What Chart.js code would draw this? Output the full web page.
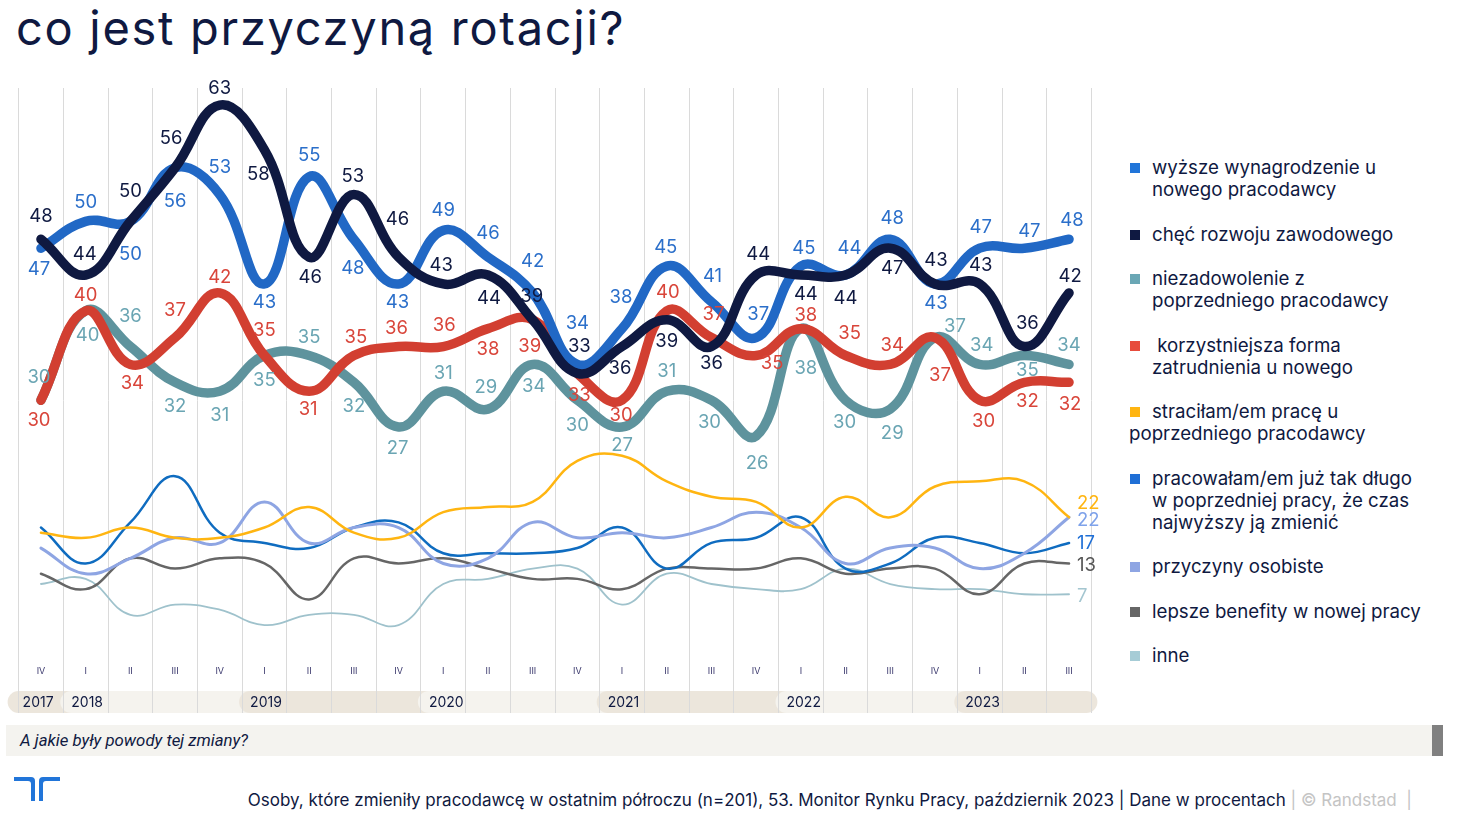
<!DOCTYPE html>
<html><head><meta charset="utf-8">
<script src="https://cdn.jsdelivr.net/npm/chart.js@4.4.0/dist/chart.umd.min.js"></script>
<style>
html,body{margin:0;padding:0;background:#fff;}
body{width:1457px;height:823px;position:relative;overflow:hidden;font-family:Inter,"Noto Sans",sans-serif;color:#0f1941;}
#title{position:absolute;left:16px;top:0;font-size:47px;letter-spacing:1.7px;line-height:56px;white-space:nowrap;color:#0f1941;}
#wrap{position:absolute;left:0;top:0;width:1100px;height:730px;}
#legend{position:absolute;left:1129px;top:157px;width:328px;}
.item{position:relative;font-size:18.7px;line-height:22px;margin-bottom:22.5px;padding-left:23px;white-space:nowrap;}
.item.out{padding-left:0;text-indent:23px;}
.sq{position:absolute;left:1px;top:6px;width:10px;height:10px;}
#qbar{position:absolute;left:6px;top:725px;width:1426px;height:31px;background:#f4f3ef;}
#qbar span{position:absolute;left:14px;top:0;line-height:31px;font-style:italic;font-size:16.8px;font-family:Roboto,"Liberation Sans",sans-serif;color:#0f1941;}
#qend{position:absolute;left:1432px;top:725px;width:11px;height:31px;background:#808080;}
#logo{position:absolute;left:14px;top:777px;}
#foot{position:absolute;right:45px;top:789px;font-size:17px;line-height:22px;white-space:nowrap;color:#0f1941;}
#foot .g{color:#c4c4c4;}
</style>
</head><body>
<div id="title">co jest przyczyną rotacji?</div>
<div id="wrap"><canvas id="c" width="1100" height="730"></canvas></div>
<div id="legend"></div>
<div id="qbar"><span>A jakie były powody tej zmiany?</span></div>
<div id="qend"></div>
<svg id="logo" width="46" height="24" viewBox="0 0 46 24">
<path d="M0 0 H17 Q21 0 21 4 V24 H17 V7 Q17 4 14 4 H0 Z" fill="#2175d9"/>
<path d="M46 0 H29 Q25 0 25 4 V24 H29 V7 Q29 4 32 4 H46 Z" fill="#2175d9"/>
</svg>
<div id="foot">Osoby, które zmieniły pracodawcę w ostatnim półroczu (n=201), 53. Monitor Rynku Pracy, październik 2023 | Dane w procentach<span class="g"> | © Randstad &nbsp;|</span></div>
<script>
// ---- data ----
const quarters = ['IV','I','II','III','IV','I','II','III','IV','I','II','III','IV','I','II','III','IV','I','II','III','IV','I','II','III'];
const periodYears = [2017,2018,2018,2018,2018,2019,2019,2019,2019,2020,2020,2020,2020,2021,2021,2021,2021,2022,2022,2022,2022,2023,2023,2023];

const wyzszeWynagrodzenie = [47,50,50,56,53,43,55,48,43,49,46,42,34,38,45,41,37,45,44,48,43,47,47,48];
const checRozwoju        = [48,44,50,56,63,58,46,53,46,43,44,39,33,36,39,36,44,44,44,47,43,43,36,42];
const niezadowolenie     = [30,40,36,32,31,35,35,32,27,31,29,34,30,27,31,30,26,38,30,29,37,34,35,34];
const korzystniejsza     = [30,40,34,37,42,35,31,35,36,36,38,39,33,30,40,37,35,38,35,34,37,30,32,32];
const stracilamPrace     = [19,18,20,18,18,20,24,19,18,23,24,25,33,34,29,26,25,20,26,22,28,29,29,22];
const pracowalamDlugo    = [20,13,21,30,19,17,16,20,21,15,15,15,16,20,12,17,18,22,12,13,18,17,15,17];
const przyczynyOsobiste  = [16,11,14,18,17,25,17,20,20,13,14,21,18,19,18,20,23,20,13,16,16,12,15,22];
const lepszeBenefity     = [11,8,14,12,14,13,6,14,13,14,12,10,10,8,12,12,12,14,11,12,12,7,13,13];
const inne               = [9,10,3,5,4,1,3,3,1,9,10,12,12,5,11,9,8,8,12,9,8,8,7,7];

// ---- label placement (pixel offsets from each point) ----
const offBlue = [[-2,21],[0,-19],[0,33],[0,34],[0,-27],[0,18],[0,-21],[-1,29],[-1,18],[0,-20],[0,-24],[0,-31],[0,-41],[-1,-31],[-1,-19],[1,-25],[2,-23],[3,-18],[4,-27],[2,-21],[1,19],[1,-21],[5,-17],[3,-19]];
const offNavy = [[0,-23],[-1,-21],[0,-30],[-4,-29],[0,-17],[-6,25],[1,20],[-1,-18],[-1,-38],[-2,-19],[1,23],[-1,-23],[2,-27],[-2,22],[0,22],[0,17],[2,-21],[5,19],[0,23],[2,20],[1,-24],[1,-19],[3,-23],[1,-16]];
const offTeal = [[-2,-23],[2,25],[0,-30],[0,24],[0,24],[0,25],[0,-18],[0,24],[-1,21],[0,-18],[-2,-22],[1,22],[0,25],[0,18],[0,-20],[-2,22],[1,27],[5,40],[-1,22],[2,24],[20,-11],[2,-19],[3,15],[0,-19]];
const offRed  = [[-2,20],[0,-15],[2,19],[0,-27],[0,-15],[0,-25],[-1,18],[2,-18],[-2,-18],[1,-21],[0,21],[-3,27],[2,22],[-1,15],[1,-18],[2,-23],[16,8],[5,-13],[4,-22],[2,-19],[5,38],[4,21],[3,19],[1,22]];
const endOff = {stracilam:-14, osobiste:3, pracowalam:0, benefity:1.5, inne:2};

const series = [
  {label:'chęć rozwoju zawodowego', data:checRozwoju, color:'#0f1941', lab:'#0f1941', main:true, off:offNavy},
  {label:'wyższe wynagrodzenie u nowego pracodawcy', data:wyzszeWynagrodzenie, color:'#2168c5', lab:'#2b6fca', main:true, off:offBlue},
  {label:'korzystniejsza forma zatrudnienia u nowego', data:korzystniejsza, color:'#d23f31', lab:'#d9453a', main:true, off:offRed},
  {label:'niezadowolenie z poprzedniego pracodawcy', data:niezadowolenie, color:'#5e939d', lab:'#6aa5b3', main:true, off:offTeal},
  {label:'straciłam/em pracę u poprzedniego pracodawcy', data:stracilamPrace, color:'#ffb511', lab:'#ffb511', w:2.5, end:endOff.stracilam},
  {label:'przyczyny osobiste', data:przyczynyOsobiste, color:'#8ea5e3', lab:'#7ea2ea', w:3, end:endOff.osobiste},
  {label:'pracowałam/em już tak długo w poprzedniej pracy, że czas najwyższy ją zmienić', data:pracowalamDlugo, color:'#0f6cc0', lab:'#1f6fd6', w:2.5, end:endOff.pracowalam},
  {label:'lepsze benefity w nowej pracy', data:lepszeBenefity, color:'#666666', lab:'#555555', w:2.5, end:endOff.benefity},
  {label:'inne', data:inne, color:'#9fc2cc', lab:'#a4c6d0', w:1.8, end:endOff.inne}
];

// ---- legend (HTML) ----
const legendItems = [
  ['wyższe wynagrodzenie u<br>nowego pracodawcy','#2175d9',''],
  ['chęć rozwoju zawodowego','#0f1941',''],
  ['niezadowolenie z<br>poprzedniego pracodawcy','#6aa7b5',''],
  ['&nbsp;korzystniejsza forma<br>zatrudnienia u nowego','#e74c3c',''],
  ['straciłam/em pracę u<br>poprzedniego pracodawcy','#ffb511','out'],
  ['pracowałam/em już tak długo<br>w poprzedniej pracy, że czas<br>najwyższy ją zmienić','#1f6fd6',''],
  ['przyczyny osobiste','#8ea5e3',''],
  ['lepsze benefity w nowej pracy','#666666',''],
  ['inne','#a6ccd6','']
];
const lg = document.getElementById('legend');
legendItems.forEach(([t,c,cls])=>{
  const d=document.createElement('div'); d.className='item '+cls;
  d.innerHTML='<span class="sq" style="background:'+c+';text-indent:0"></span>'+t;
  lg.appendChild(d);
});

// ---- plugins ----
const decor = {
  id:'decor',
  beforeDraw(chart){
    const {ctx, chartArea:a} = chart; const x = chart.scales.x;
    const half = (x.getPixelForValue(1)-x.getPixelForValue(0))/2;
    const yrs=[]; periodYears.forEach((y,i)=>{ if(!yrs.length||yrs[yrs.length-1].y!==y) yrs.push({y,i}); });
    const top=a.bottom-22, h=22;
    yrs.forEach((s,k)=>{
      const bx = x.getPixelForValue(s.i)-half;
      const start = k===0 ? a.left-11 : bx-3;
      let end;
      if(k<yrs.length-1){ end = x.getPixelForValue(yrs[k+1].i)-half+20; } else { end = a.right+6; }
      ctx.save();
      ctx.fillStyle = (k%2===0)?'#ece6dc':'#f5f3ee';
      ctx.beginPath(); ctx.roundRect(start, top, end-start, h, 11); ctx.fill();
      ctx.restore();
    });
    yrs.forEach((s,k)=>{
      const bx = x.getPixelForValue(s.i)-half;
      const start = k===0 ? a.left-11 : bx-3;
      ctx.save(); ctx.fillStyle='#0f1941'; ctx.font='14px Inter'; ctx.textBaseline='middle'; ctx.textAlign='left';
      ctx.fillText(String(s.y), start+(k===0?15:11), top+h/2+0.5); ctx.restore();
    });
  },
  afterDraw(chart){
    const {ctx, chartArea:a} = chart; const x = chart.scales.x;
    ctx.save(); ctx.fillStyle='#3c3a6e'; ctx.font='9px Inter'; ctx.textAlign='center'; ctx.textBaseline='middle';
    quarters.forEach((q,i)=>ctx.fillText(q, x.getPixelForValue(i), a.bottom-41.5));
    ctx.restore();
  }
};
const valueLabels = {
  id:'valueLabels',
  afterDatasetsDraw(chart){
    const ctx=chart.ctx;
    chart.data.datasets.forEach((ds,di)=>{
      const s=series[di]; const meta=chart.getDatasetMeta(di);
      ctx.save(); ctx.font='18.5px Inter'; ctx.fillStyle=s.lab; ctx.textBaseline='middle';
      if(s.main){
        ctx.textAlign='center';
        meta.data.forEach((pt,i)=>{ const o=s.off[i]; ctx.fillText(String(ds.data[i]), pt.x+o[0], pt.y+o[1]); });
      } else {
        ctx.textAlign='left';
        const n=meta.data.length-1; const pt=meta.data[n];
        ctx.fillText(String(ds.data[n]), pt.x+8, pt.y+s.end);
      }
      ctx.restore();
    });
  }
};

Chart.defaults.font.family='Inter';
new Chart(document.getElementById('c'), {
  type:'line',
  data:{
    labels: quarters,
    datasets: series.map(s=>({
      label:s.label, data:s.data, borderColor:s.color, backgroundColor:s.color,
      borderWidth: s.main?9.5:s.w, pointRadius:0, tension:0.42, fill:false, clip:false,
      borderCapStyle:'round', borderJoinStyle:'round',
      yAxisID: s.main?'y':'y2'
    }))
  },
  options:{
    responsive:false, animation:false, devicePixelRatio:1,
    layout:{padding:{left:18.6, right:8.6, top:88, bottom:17}},
    plugins:{legend:{display:false}, tooltip:{enabled:false}},
    scales:{
      x:{type:'category', offset:true, display:true,
         ticks:{display:false}, border:{display:false},
         grid:{offset:true, drawTicks:false, color:'#dadada', lineWidth:1}},
      y:{display:false, min:-4.99, max:64.92},
      y2:{display:false, min:-16.13, max:105.63}
    }
  },
  plugins:[decor, valueLabels]
});
</script>
</body></html>
